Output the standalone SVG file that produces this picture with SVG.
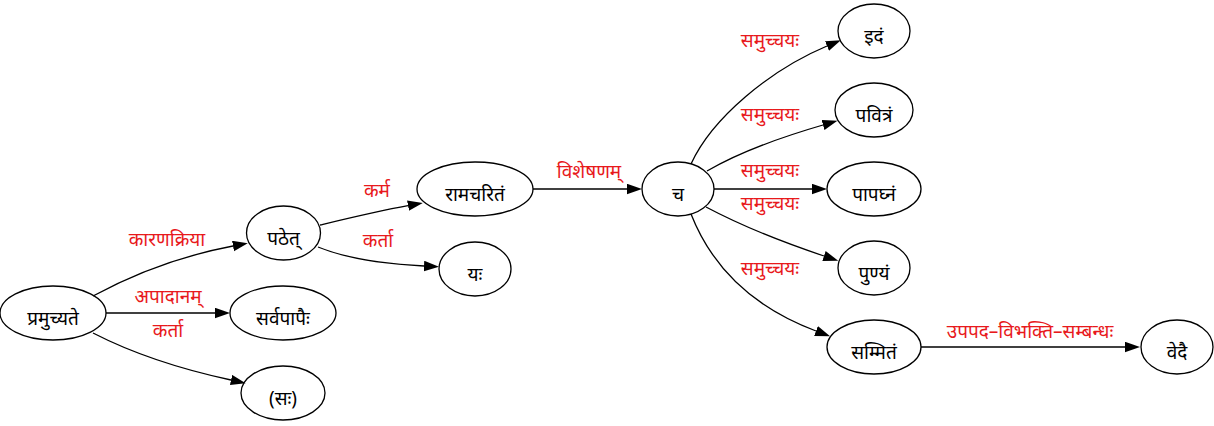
<svg xmlns="http://www.w3.org/2000/svg" width="1214" height="426" viewBox="0 0 1214 426">
  <style>
    .node ellipse { fill: none; stroke: #000; stroke-width: 1.3; }
    .node text { font-family: "Noto Sans", "DejaVu Sans", sans-serif; font-size: 19px; fill: #000; text-anchor: middle; }
    .edge path { fill: none; stroke: #000; stroke-width: 1.3; marker-end: url(#arrow); }
    .lbl { font-family: "Noto Sans", "DejaVu Sans", sans-serif; font-size: 19px; fill: #e8191c; text-anchor: middle; }
  </style>
  <defs>
    <marker id="arrow" markerUnits="userSpaceOnUse" markerWidth="15" markerHeight="11" refX="0" refY="5.25" orient="auto">
      <path d="M0,0 L15,5.25 L0,10.5 Z" fill="#000"/>
    </marker>
  </defs>
  <rect width="1214" height="426" fill="#fff"/>

  <!-- connectors with their relation labels -->
  <g id="edges" class="edge">
    <path d="M93,296 C130,276 180,256 233,246"/>
    <text class="lbl" x="167" y="246">कारणक्रिया</text>
    <path d="M106,313 L215,313"/>
    <text class="lbl" x="168" y="303">अपादानम्</text>
    <text class="lbl" x="168" y="337">कर्ता</text>
    <path d="M93,333 C130,352 180,369 231,380"/>
    <path d="M320,225 C345,219 378,211 408,205.6"/>
    <text class="lbl" x="377" y="197">कर्म</text>
    <path d="M318,247 C345,258 385,264 424,266"/>
    <text class="lbl" x="378" y="247">कर्ता</text>
    <path d="M533,189 L627,189"/>
    <text class="lbl" x="589" y="178">विशेषणम्</text>
    <path d="M691,164 C712,118 770,70 827,46"/>
    <text class="lbl" x="770" y="47">समुच्चयः</text>
    <path d="M707,171 C740,152 785,136 823,125"/>
    <text class="lbl" x="770" y="121">समुच्चयः</text>
    <path d="M714,189 L812,189"/>
    <text class="lbl" x="770" y="177">समुच्चयः</text>
    <text class="lbl" x="770" y="210">समुच्चयः</text>
    <path d="M706,207 C740,225 785,243 824,256"/>
    <text class="lbl" x="770" y="275">समुच्चयः</text>
    <path d="M691,214 C715,275 760,310 816,331"/>
    <path d="M921,347 L1125,347"/>
    <text class="lbl" x="1030" y="338">उपपद–विभक्ति–सम्बन्धः</text>
  </g>

  <g id="n-pramucyate" class="node"><ellipse cx="53" cy="313" rx="53" ry="27"/><text x="53" y="325">प्रमुच्यते</text></g>
  <g id="n-sarvapapaih" class="node"><ellipse cx="283" cy="313" rx="53" ry="27"/><text x="283" y="325">सर्वपापैः</text></g>
  <g id="n-sah" class="node"><ellipse cx="283" cy="393" rx="42" ry="27"/><text x="283" y="405">(सः)</text></g>
  <g id="n-pathet" class="node"><ellipse cx="283.5" cy="233" rx="37" ry="27"/><text x="283.5" y="245">पठेत्</text></g>
  <g id="n-ramacaritam" class="node"><ellipse cx="475" cy="189" rx="58" ry="27"/><text x="475" y="201">रामचरितं</text></g>
  <g id="n-yah" class="node"><ellipse cx="475" cy="269" rx="36" ry="27"/><text x="475" y="281">यः</text></g>
  <g id="n-ca" class="node"><ellipse cx="678" cy="189" rx="36" ry="27"/><text x="678" y="201">च</text></g>
  <g id="n-idam" class="node"><ellipse cx="874" cy="31" rx="36" ry="27"/><text x="874" y="43">इदं</text></g>
  <g id="n-pavitram" class="node"><ellipse cx="874" cy="110" rx="39" ry="27"/><text x="874" y="122">पवित्रं</text></g>
  <g id="n-papaghnam" class="node"><ellipse cx="874" cy="189" rx="47" ry="27"/><text x="874" y="201">पापघ्नं</text></g>
  <g id="n-punyam" class="node"><ellipse cx="874" cy="268" rx="36" ry="27"/><text x="874" y="280">पुण्यं</text></g>
  <g id="n-sammitam" class="node"><ellipse cx="874" cy="347" rx="47" ry="27"/><text x="874" y="359">सम्मितं</text></g>
  <g id="n-vedai" class="node"><ellipse cx="1177" cy="347" rx="36" ry="27"/><text x="1177" y="359">वेदै</text></g>
</svg>
